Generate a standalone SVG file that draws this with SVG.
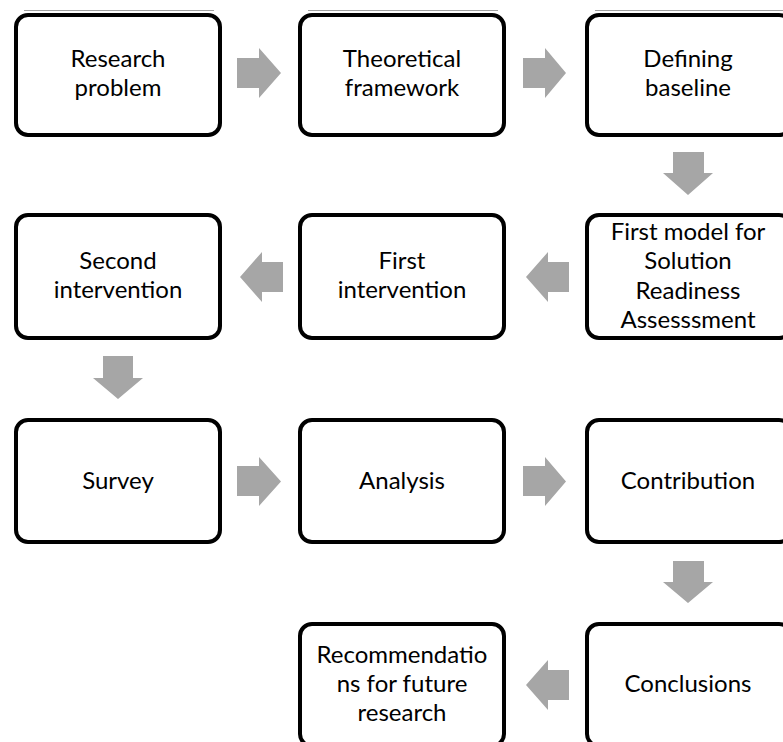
<svg xmlns="http://www.w3.org/2000/svg" width="783" height="742" viewBox="0 0 783 742">
  <style>
    .box { fill: #ffffff; stroke: #000000; stroke-width: 4; }
    .lbl { font-family: Lato, "Open Sans", "Noto Sans", sans-serif; font-size: 24px; fill: #000000; text-anchor: middle; }
    .arr { fill: #a6a6a6; }
    .edge { stroke: #a0a0a0; stroke-width: 1; fill: none; }
  </style>
  <rect width="783" height="742" fill="#ffffff"/>

  <!-- faint top edge above the first row -->
  <line class="edge" x1="24" y1="10.5" x2="214" y2="10.5"/>
  <line class="edge" x1="308" y1="10.5" x2="498" y2="10.5"/>
  <line class="edge" x1="595" y1="10.5" x2="783" y2="10.5"/>

  <!-- connectors -->
  <g id="connectors">
    <!-- row 1, left to right -->
    <polygon class="arr" points="237,58 259,58 259,48 281,73 259,98 259,88 237,88"/>
    <polygon class="arr" points="523,58 545,58 545,48 566,73 545,98 545,88 523,88"/>
    <!-- down, column 3 -->
    <polygon class="arr" points="673,152 704,152 704,173 713,173 688,195 663,173 673,173"/>
    <!-- row 2, right to left -->
    <polygon class="arr" points="569,262 548,262 548,252 526,277 548,302 548,292 569,292"/>
    <polygon class="arr" points="283,262 262,262 262,252 240,277 262,302 262,292 283,292"/>
    <!-- down, column 1 -->
    <polygon class="arr" points="103,356 133,356 133,378 143,378 118,399 93,378 103,378"/>
    <!-- row 3, left to right -->
    <polygon class="arr" points="237,466 259,466 259,457 281,481.5 259,506 259,496 237,496"/>
    <polygon class="arr" points="523,466 545,466 545,457 566,481.5 545,506 545,496 523,496"/>
    <!-- down, column 3 -->
    <polygon class="arr" points="673,561 704,561 704,582 713,582 688,603 663,582 673,582"/>
    <!-- row 4, right to left -->
    <polygon class="arr" points="569,670 548,670 548,660 526,685 548,710 548,700 569,700"/>
  </g>

  <g id="research-problem">
    <rect class="box" x="16" y="15" width="204" height="120" rx="12"/>
    <text class="lbl" x="118" y="66.5">Research</text>
    <text class="lbl" x="118" y="95.5">problem</text>
  </g>
  <g id="theoretical-framework">
    <rect class="box" x="300" y="15" width="204" height="120" rx="12"/>
    <text class="lbl" x="402" y="66.5">Theoretical</text>
    <text class="lbl" x="402" y="95.5">framework</text>
  </g>
  <g id="defining-baseline">
    <rect class="box" x="587" y="15" width="204" height="120" rx="12"/>
    <text class="lbl" x="688" y="66.5">Defining</text>
    <text class="lbl" x="688" y="95.5">baseline</text>
  </g>

  <g id="first-model">
    <rect class="box" x="587" y="215" width="204" height="123" rx="12"/>
    <text class="lbl" x="688" y="240">First model for</text>
    <text class="lbl" x="688" y="269.3">Solution</text>
    <text class="lbl" x="688" y="298.6">Readiness</text>
    <text class="lbl" x="688" y="328">Assesssment</text>
  </g>
  <g id="first-intervention">
    <rect class="box" x="300" y="215" width="204" height="123" rx="12"/>
    <text class="lbl" x="402" y="268.5">First</text>
    <text class="lbl" x="402" y="297.5">intervention</text>
  </g>
  <g id="second-intervention">
    <rect class="box" x="16" y="215" width="204" height="123" rx="12"/>
    <text class="lbl" x="118" y="268.5">Second</text>
    <text class="lbl" x="118" y="297.5">intervention</text>
  </g>

  <g id="survey">
    <rect class="box" x="16" y="420" width="204" height="122" rx="12"/>
    <text class="lbl" x="118" y="488.5">Survey</text>
  </g>
  <g id="analysis">
    <rect class="box" x="300" y="420" width="204" height="122" rx="12"/>
    <text class="lbl" x="402" y="488.5">Analysis</text>
  </g>
  <g id="contribution">
    <rect class="box" x="587" y="420" width="204" height="122" rx="12"/>
    <text class="lbl" x="688" y="488.5">Contribution</text>
  </g>

  <g id="conclusions">
    <rect class="box" x="587" y="624" width="204" height="122" rx="12"/>
    <text class="lbl" x="688" y="692">Conclusions</text>
  </g>
  <g id="recommendations">
    <rect class="box" x="300" y="624" width="204" height="122" rx="12"/>
    <text class="lbl" x="402" y="663">Recommendatio</text>
    <text class="lbl" x="402" y="692">ns for future</text>
    <text class="lbl" x="402" y="721">research</text>
  </g>
</svg>
